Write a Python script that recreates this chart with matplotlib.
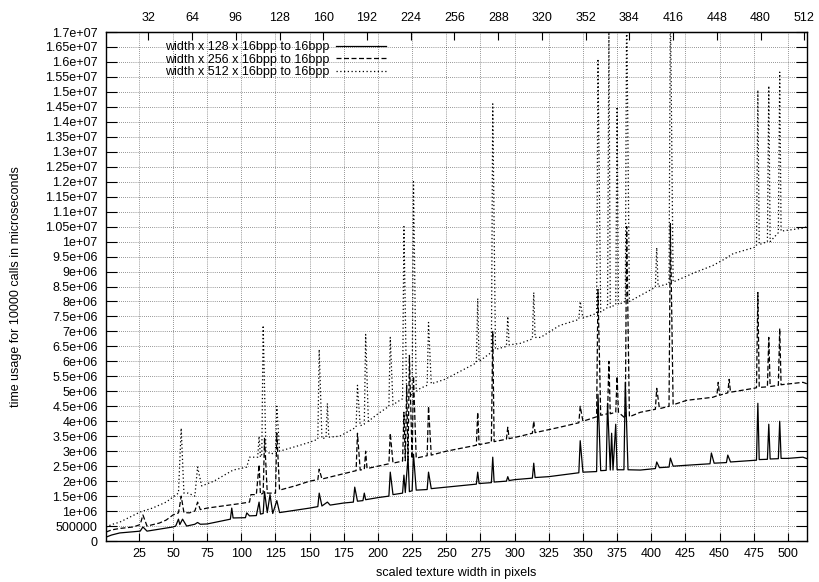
import matplotlib
matplotlib.use("Agg")
import matplotlib.pyplot as plt
from matplotlib.ticker import FuncFormatter, MultipleLocator

plt.rcParams.update({"font.family": ["Liberation Sans", "DejaVu Sans"], "font.size": 9})

# timings in millions of microseconds (10000 calls), keyed by scaled width
w128_x = [1, 5, 11, 26, 28, 31, 50, 52, 54, 55, 57, 60, 66, 68, 70, 75, 92, 93, 94, 103,
          104, 106, 111, 113, 114, 116, 117, 119, 121, 123, 126, 128, 150, 156, 157, 159,
          163, 165, 175, 182, 183, 185, 189, 190, 191, 200, 208, 209, 211, 218, 219, 220,
          222, 223, 225, 226, 228, 236, 237, 239, 250, 272, 273, 274, 283, 284, 285, 294,
          295, 296, 300, 313, 314, 315, 325, 347, 348, 350, 360, 361, 363, 367, 368, 370,
          371, 372, 374, 375, 380, 381, 383, 392, 403, 404, 406, 413, 414, 416, 429, 443,
          444, 446, 455, 456, 458, 477, 478, 479, 485, 486, 487, 493, 494, 495, 500, 511, 514]
w128_y = [0.13, 0.2, 0.27, 0.33, 0.47, 0.33, 0.47, 0.5, 0.73, 0.55, 0.73, 0.5, 0.56, 0.62,
          0.56, 0.57, 0.73, 1.1, 0.77, 0.78, 0.94, 0.84, 0.85, 1.3, 0.9, 0.92, 1.65, 0.95,
          1.55, 0.92, 1.35, 0.95, 1.1, 1.15, 1.6, 1.17, 1.3, 1.2, 1.27, 1.3, 1.8, 1.33, 1.35,
          1.6, 1.38, 1.45, 1.5, 2.3, 1.55, 1.6, 2.2, 1.62, 2.8, 1.65, 1.68, 2.9, 1.7, 1.72,
          2.3, 1.75, 1.8, 1.9, 2.3, 1.92, 1.95, 2.8, 1.97, 2.0, 2.15, 2.02, 2.05, 2.1, 2.6,
          2.12, 2.15, 2.28, 3.35, 2.3, 2.32, 4.9, 2.35, 2.36, 4.6, 2.37, 3.6, 2.37, 3.9, 2.38,
          2.38, 5.3, 2.38, 2.37, 2.42, 2.64, 2.45, 2.47, 2.77, 2.5, 2.54, 2.58, 2.94, 2.6,
          2.62, 2.87, 2.64, 2.7, 4.6, 2.72, 2.73, 3.9, 2.74, 2.75, 4.0, 2.76, 2.76, 2.8, 2.75]

w256_x = [1, 5, 11, 21, 26, 28, 31, 40, 45, 50, 54, 55, 56, 58, 62, 66, 68, 70, 75, 99,
          106, 107, 111, 113, 114, 116, 117, 119, 125, 126, 128, 140, 150, 156, 157, 159,
          175, 184, 185, 187, 190, 191, 192, 200, 208, 209, 211, 218, 219, 220, 221, 222,
          223, 225, 226, 228, 236, 237, 239, 250, 272, 273, 274, 283, 284, 285, 294, 295,
          296, 304, 313, 314, 315, 333, 347, 348, 350, 360, 361, 363, 368, 369, 370, 374,
          375, 376, 381, 382, 384, 392, 403, 404, 406, 413, 414, 416, 426, 445, 448, 449,
          450, 456, 457, 458, 475, 477, 478, 479, 485, 486, 487, 493, 494, 495, 511, 514]
w256_y = [0.30, 0.37, 0.42, 0.47, 0.55, 0.87, 0.5, 0.6, 0.7, 0.87, 0.94, 1.2, 1.5, 0.95,
          0.94, 1.0, 1.3, 1.05, 1.1, 1.25, 1.3, 1.55, 1.55, 2.55, 1.55, 1.6, 3.45, 1.6, 1.6,
          3.6, 1.7, 1.85, 2.0, 2.05, 2.4, 2.07, 2.25, 2.35, 3.6, 2.37, 2.4, 3.0, 2.42, 2.5,
          2.58, 3.6, 2.6, 2.67, 4.3, 2.68, 5.2, 2.7, 6.2, 2.75, 5.5, 2.77, 2.85, 4.5, 2.87,
          3.0, 3.2, 4.3, 3.22, 3.3, 7.0, 3.32, 3.4, 3.8, 3.42, 3.5, 3.6, 4.0, 3.62, 3.8, 3.95,
          4.5, 4.0, 4.15, 8.4, 4.2, 4.25, 6.0, 4.25, 4.3, 5.5, 4.3, 4.1, 10.5, 4.15, 4.3, 4.4,
          5.1, 4.42, 4.5, 10.6, 4.55, 4.7, 4.8, 4.85, 5.3, 4.87, 4.95, 5.4, 4.97, 5.1, 5.12,
          8.3, 5.13, 5.15, 6.8, 5.16, 5.2, 7.1, 5.22, 5.3, 5.25]

w512_x = [1, 5, 11, 26, 28, 35, 45, 50, 54, 56, 58, 61, 66, 68, 71, 80, 94, 104, 106, 112,
          113, 114, 115, 116, 118, 122, 125, 126, 128, 143, 150, 156, 157, 159, 162, 163,
          164, 172, 184, 185, 187, 190, 191, 193, 200, 208, 209, 211, 216, 218, 219, 221,
          225, 226, 228, 231, 236, 237, 239, 249, 272, 273, 274, 283, 284, 286, 294, 295,
          296, 304, 313, 314, 315, 319, 333, 347, 348, 350, 360, 361, 363, 368, 369, 370,
          374, 375, 376, 381, 382, 384, 402, 403, 404, 405, 413, 414, 416, 431, 445, 453,
          460, 475, 477, 478, 479, 485, 486, 487, 493, 494, 495, 511, 514]
w512_y = [0.46, 0.55, 0.63, 0.97, 1.0, 1.1, 1.3, 1.47, 1.6, 3.77, 1.6, 1.6, 1.5, 2.47,
          1.84, 2.0, 2.37, 2.47, 2.8, 2.8, 3.5, 2.8, 2.9, 7.2, 3.0, 2.9, 3.0, 4.5, 3.0, 3.2,
          3.3, 3.4, 6.4, 3.42, 3.45, 4.6, 3.47, 3.5, 3.8, 5.2, 3.85, 3.9, 6.9, 4.0, 4.25, 4.5,
          6.8, 4.55, 4.7, 4.75, 10.5, 4.8, 4.9, 12.0, 5.0, 5.1, 5.2, 7.3, 5.25, 5.4, 5.95,
          8.1, 6.0, 6.3, 14.6, 6.4, 6.5, 7.5, 6.55, 6.6, 6.75, 8.3, 6.8, 6.8, 7.2, 7.4, 8.0,
          7.45, 7.6, 16.1, 7.65, 7.8, 17.0, 7.8, 7.9, 14.5, 7.9, 8.0, 18.0, 8.0, 8.45, 8.5,
          9.8, 8.5, 8.6, 18.0, 8.65, 8.95, 9.2, 9.4, 9.6, 9.8, 9.85, 15.06, 9.9, 10.0, 15.2,
          10.0, 10.3, 15.66, 10.35, 10.45, 10.5]

series_labels = ["width x 128 x 16bpp to 16bpp",
                 "width x 256 x 16bpp to 16bpp",
                 "width x 512 x 16bpp to 16bpp"]
top_ticks = list(range(32, 513, 32))

fig = plt.figure(figsize=(8.2, 5.82), dpi=100)
ax = fig.add_axes([0.1293, 0.0704, 0.8549, 0.8746])

lw = 0.9
ax.plot(w128_x, [v * 1e6 for v in w128_y], color="black", lw=lw, linestyle="-",
        label=series_labels[0])
ax.plot(w256_x, [v * 1e6 for v in w256_y], color="black", lw=lw, linestyle=(0, (4, 2)),
        label=series_labels[1])
ax.plot(w512_x, [v * 1e6 for v in w512_y], color="black", lw=lw, linestyle=(0, (1, 2)),
        label=series_labels[2])

ax.set_xlim(1, 514)
ax.set_ylim(0, 1.7e7)
ax.xaxis.set_major_locator(MultipleLocator(25))
ax.yaxis.set_major_locator(MultipleLocator(5e5))
ax.yaxis.set_major_formatter(FuncFormatter(lambda v, p: "%g" % v))
ax.tick_params(axis="x", direction="in", top=False, length=6, width=0.8, pad=5)
ax.tick_params(axis="y", direction="in", left=True, right=True, length=8, width=0.8, pad=6)
ax.grid(True, color="black", linestyle=(0, (1, 2)), linewidth=0.5, alpha=0.8)
for s in ax.spines.values():
    s.set_linewidth(1.0)

top = ax.secondary_xaxis("top")
top.set_xticks(top_ticks)
top.tick_params(direction="in", length=6, width=0.8, pad=6)

ax.set_xlabel("scaled texture width in pixels")
ax.set_ylabel("time usage for 10000 calls in microseconds")
ax.xaxis.set_label_coords(0.5, -0.052)
ax.yaxis.set_label_coords(-0.12, 0.5)

ax.legend(loc="upper left", bbox_to_anchor=(0.084, 0.982), frameon=False,
          markerfirst=False, handlelength=4.0, handletextpad=0.5, labelspacing=0.05,
          borderpad=0, borderaxespad=0)

fig.savefig("out.png", dpi=100)
